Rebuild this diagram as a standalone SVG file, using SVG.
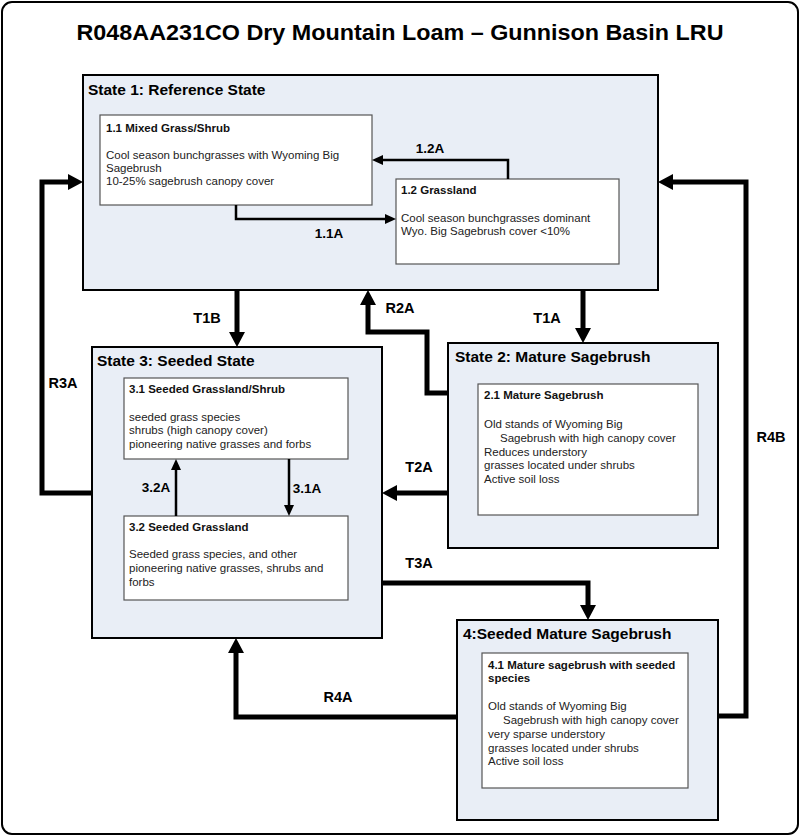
<svg xmlns="http://www.w3.org/2000/svg" width="800" height="836" viewBox="0 0 800 836">
<style>
.frame{fill:#fff;stroke:#000;stroke-width:2}
.state{fill:#e9eef6;stroke:#000;stroke-width:2}
.comm{fill:#fff;stroke:#555;stroke-width:1.2}
.title{font-family:"Liberation Sans",Arial,sans-serif;font-weight:bold;font-size:22.5px;fill:#000}
.st{font-family:"Liberation Sans",Arial,sans-serif;font-weight:bold;font-size:15.5px;fill:#000}
.ct{font-family:"Liberation Sans",Arial,sans-serif;font-weight:bold;font-size:11.5px;fill:#111}
.body{font-family:"Liberation Sans",Arial,sans-serif;font-size:11.5px;fill:#222}
.lbl{font-family:"Liberation Sans",Arial,sans-serif;font-weight:bold;font-size:14.5px;fill:#000;text-anchor:middle}
.lbs{font-family:"Liberation Sans",Arial,sans-serif;font-weight:bold;font-size:13.5px;fill:#000;text-anchor:middle}
.thick{fill:none;stroke:#000;stroke-width:5;marker-end:url(#big)}
.thin{fill:none;stroke:#000;stroke-width:2.5;marker-end:url(#small)}
</style>
<defs>
<marker id="big" markerUnits="userSpaceOnUse" viewBox="0 0 15 16" markerWidth="15" markerHeight="16" refX="0" refY="8" orient="auto"><path d="M0,0 L15,8 L0,16 z" fill="#000"/></marker>
<marker id="small" markerUnits="userSpaceOnUse" viewBox="0 0 11 10" markerWidth="11" markerHeight="10" refX="0" refY="5" orient="auto"><path d="M0,0 L11,5 L0,10 z" fill="#000"/></marker>
</defs>
<rect class="frame" x="2" y="2" width="796" height="832" rx="10"/>
<text class="title" x="400" y="40" text-anchor="middle" textLength="647" lengthAdjust="spacingAndGlyphs">R048AA231CO Dry Mountain Loam – Gunnison Basin LRU</text>

<g id="state1">
<rect class="state" x="83" y="75" width="575" height="215"/>
<text class="st" x="88" y="95">State 1: Reference State</text>
</g>
<g id="c11">
<rect class="comm" x="100" y="115" width="272" height="90"/>
<text class="ct" x="106" y="132">1.1 Mixed Grass/Shrub</text>
<text class="body" x="106" y="159">Cool season bunchgrasses with Wyoming Big</text>
<text class="body" x="106" y="172">Sagebrush</text>
<text class="body" x="106" y="185">10-25% sagebrush canopy cover</text>
</g>
<g id="c12">
<rect class="comm" x="396" y="179" width="223" height="85"/>
<text class="ct" x="401" y="194">1.2 Grassland</text>
<text class="body" x="401" y="222">Cool season bunchgrasses dominant</text>
<text class="body" x="401" y="235">Wyo. Big Sagebrush cover &lt;10%</text>
</g>

<g id="state3">
<rect class="state" x="92" y="347" width="290" height="291"/>
<text class="st" x="97" y="366">State 3: Seeded State</text>
</g>
<g id="c31">
<rect class="comm" x="124" y="378" width="224" height="81"/>
<text class="ct" x="129" y="393">3.1 Seeded Grassland/Shrub</text>
<text class="body" x="129" y="421">seeded grass species</text>
<text class="body" x="129" y="434">shrubs (high canopy cover)</text>
<text class="body" x="129" y="448">pioneering native grasses and forbs</text>
</g>
<g id="c32">
<rect class="comm" x="124" y="516" width="224" height="84"/>
<text class="ct" x="129" y="531">3.2 Seeded Grassland</text>
<text class="body" x="129" y="558">Seeded grass species, and other</text>
<text class="body" x="129" y="572">pioneering native grasses, shrubs and</text>
<text class="body" x="129" y="586">forbs</text>
</g>

<g id="state2">
<rect class="state" x="448" y="343" width="270" height="205"/>
<text class="st" x="455" y="362">State 2: Mature Sagebrush</text>
</g>
<g id="c21">
<rect class="comm" x="478" y="384" width="220" height="131"/>
<text class="ct" x="484" y="399">2.1 Mature Sagebrush</text>
<text class="body" x="484" y="428">Old stands of Wyoming Big</text>
<text class="body" x="500" y="442">Sagebrush with high canopy cover</text>
<text class="body" x="484" y="456">Reduces understory</text>
<text class="body" x="484" y="469">grasses located under shrubs</text>
<text class="body" x="484" y="483">Active soil loss</text>
</g>

<g id="state4">
<rect class="state" x="457" y="620" width="261" height="200"/>
<text class="st" x="463" y="639">4:Seeded Mature Sagebrush</text>
</g>
<g id="c41">
<rect class="comm" x="482" y="653" width="206" height="135"/>
<text class="ct" x="488" y="669">4.1 Mature sagebrush with seeded</text>
<text class="ct" x="488" y="682">species</text>
<text class="body" x="488" y="710">Old stands of Wyoming Big</text>
<text class="body" x="503" y="724">Sagebrush with high canopy cover</text>
<text class="body" x="488" y="738">very sparse understory</text>
<text class="body" x="488" y="752">grasses located under shrubs</text>
<text class="body" x="488" y="765">Active soil loss</text>
</g>

<g id="connectors">
<path class="thin" d="M508,179 V160 H383"/>
<path class="thin" d="M236,205 V219 H385"/>
<path class="thin" d="M176,516 V470"/>
<path class="thin" d="M289,459 V505"/>
<path class="thick" d="M237,290 V332"/>
<path class="thick" d="M448,393 H427 V332 H368 V305"/>
<path class="thick" d="M583,290 V328"/>
<path class="thick" d="M448,493 H397"/>
<path class="thick" d="M92,493 H42 V182 H68"/>
<path class="thick" d="M718,716 H746 V182 H673"/>
<path class="thick" d="M382,583 H588 V605"/>
<path class="thick" d="M457,717 H236 V653"/>
<text class="lbs" x="430" y="153">1.2A</text>
<text class="lbs" x="329" y="238">1.1A</text>
<text class="lbs" x="156" y="492">3.2A</text>
<text class="lbs" x="307" y="493">3.1A</text>
<text class="lbl" x="207" y="323">T1B</text>
<text class="lbl" x="400" y="313">R2A</text>
<text class="lbl" x="547" y="323">T1A</text>
<text class="lbl" x="419" y="472">T2A</text>
<text class="lbl" x="63" y="388">R3A</text>
<text class="lbl" x="771" y="442">R4B</text>
<text class="lbl" x="419" y="568">T3A</text>
<text class="lbl" x="338" y="702">R4A</text>
</g>
</svg>
